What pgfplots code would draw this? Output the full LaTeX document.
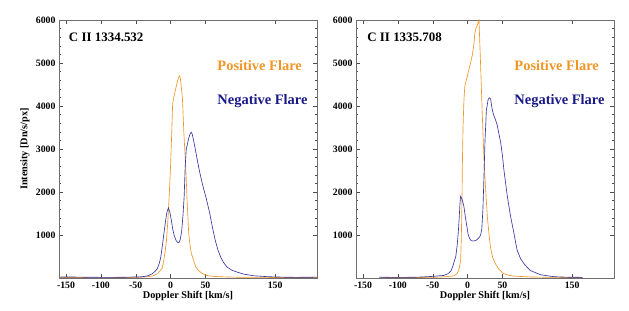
\documentclass[border=0pt]{standalone}
\usepackage{fontspec}
\setmainfont{Liberation Serif}
\usepackage{pgfplots}
\pgfplotsset{compat=1.18}
\definecolor{porange}{RGB}{240,150,40}
\definecolor{nblue}{RGB}{55,55,165}
\definecolor{ntext}{RGB}{25,25,135}
\definecolor{axgray}{RGB}{110,110,110}

\pgfplotsset{
  panel/.style={
    scale only axis, width=258bp, height=258bp,
    xmin=-160, xmax=210, ymin=0, ymax=6000,
    xtick={-150,-100,-50,0,50,150},
    ytick={1000,2000,3000,4000,5000,6000},
    minor y tick num=4,
    axis line style={axgray},
    every tick/.style={black!70},
    major tick length=4bp, minor tick length=2bp,
    /pgf/number format/assume math mode=true,
    /pgf/number format/1000 sep={},
    tick label style={font=\fontsize{9.8}{10}\selectfont\bfseries},
    label style={font=\fontsize{10.3}{11}\selectfont\bfseries},
    xlabel={Doppler Shift [km/s]},
    xlabel style={at={(axis description cs:0.5,-0.07)}, anchor=center},
    clip=true,
  },
  pos/.style={color=porange, line width=0.65bp},
  neg/.style={color=nblue, line width=0.65bp},
}

\begin{document}
\begin{tikzpicture}
\useasboundingbox (0,0) rectangle (629bp,311bp);

% ---------- left panel ----------
\begin{axis}[panel, at={(59bp,33bp)}, anchor=south west,
  ylabel={Intensity [Dn/s/px]},
  ylabel style={at={(axis description cs:-0.132,0.5)}, anchor=center}]
\addplot[pos] coordinates {
(-160,10) (-150,12) (-120,10) (-100,8) (-80,10) (-60,12) (-50,15) (-40,20) (-30,35)
(-25,50) (-20,90) (-15,170) (-12,230) (-10,380) (-8,600) (-6,850) (-4,1300) (-2,1900)
(0,2600) (1.5,3300) (3,4050) (4,4150) (6,4300) (8,4450) (10,4580) (12,4680) (13,4700)
(14,4650) (15,4500) (16,4350) (17,4180) (19,3400) (21,2800) (22.4,2330) (24,1700)
(26,1040) (28,750) (30,560) (33,410) (36,260) (40,175) (45,110) (52,60) (60,40)
(70,30) (90,20) (120,15) (160,12) (210,10)
};
\addplot[neg] coordinates {
(-160,20) (-150,25) (-130,20) (-100,15) (-80,15) (-60,20) (-45,25) (-38,35) (-32,55)
(-26,100) (-22,160) (-19,215) (-16,350) (-14,490) (-12,720) (-9.5,1040) (-7,1350)
(-5,1550) (-3,1630) (-1,1530) (1,1350) (3,1150) (5,1000) (8,870) (10,830) (12,820)
(14,900) (16,1100) (18,1500) (19.5,1900) (21,2600) (22.5,3000) (24,3100) (26,3250)
(28,3350) (29.5,3390) (31,3350) (33,3200) (36,2950) (40,2600) (43,2370) (47,2100)
(51,1860) (56,1520) (60,1180) (64,880) (68,650) (72,480) (76,360) (81,255) (88,180) (95,140)
(105,90) (120,50) (140,30) (160,20) (180,15) (210,20)
};
\node[anchor=west, inner sep=0pt, font=\fontsize{13}{14}\selectfont\bfseries]
  at (axis cs:-146,5590) {C II 1334.532};
\node[anchor=west, inner sep=0pt, text=porange, font=\fontsize{14.5}{15}\selectfont\bfseries]
  at (axis cs:67,4940) {Positive Flare};
\node[anchor=west, inner sep=0pt, text=ntext, font=\fontsize{14.5}{15}\selectfont\bfseries]
  at (axis cs:67,4110) {Negative Flare};
\end{axis}

% ---------- right panel ----------
\begin{axis}[panel, at={(356bp,33bp)}, anchor=south west]
\addplot[pos] coordinates {
(-127,15) (-110,12) (-90,10) (-70,12) (-50,15) (-35,25) (-25,40) (-20,50) (-15,100)
(-12,220) (-10,400) (-9,900) (-8,1800) (-7.5,2600) (-6.5,3500) (-5.3,4100) (-4,4450)
(-3,4530) (-1,4650) (0,4720) (2,4850) (4.3,5000) (7,5200) (9,5430) (10.5,5700)
(12,5800) (14,5880) (16.3,6000) (17.5,5500) (19,4800) (20.5,4100) (22,3400) (24,2600)
(26.8,1820) (28.5,1400) (30.6,1040) (33,700) (36,480) (40,330) (45,200) (52,100)
(60,60) (70,40) (90,25) (120,15) (165,10)
};
\addplot[neg] coordinates {
(-127,20) (-110,15) (-90,15) (-70,20) (-53,35) (-45,45) (-34,60) (-28,100) (-24,160)
(-21,280) (-18.5,420) (-17,490) (-15,750) (-13.4,1040) (-12,1400) (-11,1700) (-10,1900)
(-8.5,1850) (-7,1780) (-5.3,1670) (-3,1400) (-1,1200) (1,1000) (3,920) (5,870) (8,860)
(11.5,870) (14,900) (17,950) (18.7,1000) (20.5,1150) (22,1600) (23.4,2290) (25,3200)
(27,3900) (29.5,4150) (31,4190) (33,4170) (35,3950) (36.8,3820) (40,3680) (42.6,3550)
(45,3350) (47.4,3160) (50,2850) (52,2530) (57,1900) (61.7,1430) (66.5,1040) (71,650)
(76,450) (81,330) (86,240) (90,175) (98,120) (105,75) (115,50) (124,30) (140,20) (165,15)
};
\node[anchor=west, inner sep=0pt, font=\fontsize{13}{14}\selectfont\bfseries]
  at (axis cs:-144,5590) {C II 1335.708};
\node[anchor=west, inner sep=0pt, text=porange, font=\fontsize{14.5}{15}\selectfont\bfseries]
  at (axis cs:67,4940) {Positive Flare};
\node[anchor=west, inner sep=0pt, text=ntext, font=\fontsize{14.5}{15}\selectfont\bfseries]
  at (axis cs:67,4110) {Negative Flare};
\end{axis}
\end{tikzpicture}
\end{document}
